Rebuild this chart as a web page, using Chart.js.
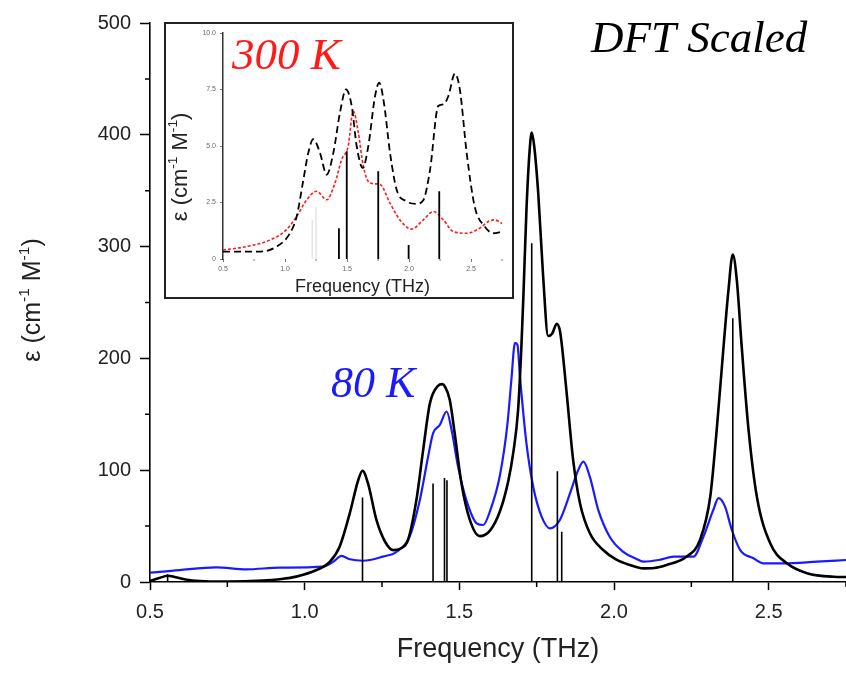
<!DOCTYPE html>
<html>
<head>
<meta charset="utf-8">
<script src="https://cdn.jsdelivr.net/npm/chart.js@4.4.0/dist/chart.umd.min.js"></script>
<style>
  html, body { margin: 0; padding: 0; background: #fff; }
  #wrap { position: relative; width: 846px; height: 673px; overflow: hidden; }
  #main { position: absolute; left: 0; top: 0; }
  #inset-box { position: absolute; left: 164px; top: 22px; width: 346px; height: 273px;
               border: 2px solid #222; background: #fff; }
  #inset { display: block; }
</style>
</head>
<body>
<div id="wrap">
  <canvas id="main" width="846" height="673"></canvas>
  <div id="inset-box"><canvas id="inset" width="346" height="273"></canvas></div>
</div>
<script>
// main panel - DFT scaled spectrum (black)
const dftFreq = [0.50, 0.53, 0.557, 0.58, 0.62, 0.68, 0.75, 0.864, 0.92, 0.973, 1.038, 1.081, 1.113, 1.146,
  1.173, 1.187, 1.205, 1.232, 1.26, 1.286, 1.31, 1.334, 1.361, 1.383, 1.405, 1.431, 1.445, 1.453, 1.469,
  1.485, 1.507, 1.534, 1.566, 1.599, 1.631, 1.658, 1.674, 1.69, 1.701, 1.707, 1.717, 1.727, 1.734, 1.742,
  1.755, 1.771, 1.787, 1.80, 1.815, 1.825, 1.831, 1.847, 1.868, 1.89, 1.922, 1.965, 2.009, 2.052, 2.095,
  2.13, 2.17, 2.235, 2.278, 2.311, 2.332, 2.354, 2.37, 2.384, 2.397, 2.413, 2.435, 2.462, 2.505, 2.559,
  2.624, 2.71, 2.75];
const dftEps = [1, 3.5, 5.6, 4.5, 2, 0.6, 0.3, 1.2, 2.5, 4.8, 10.7, 18, 31.6, 61.6,
  91, 99.5, 88, 55.5, 36, 28.5, 30, 37.6, 73, 118, 160, 175.5, 177, 175, 163,
  133, 88, 55.5, 41, 46, 63, 90, 115, 154, 213, 255, 333, 385, 402, 390,
  348, 273, 220, 222, 231, 225, 213, 169, 109, 70.5, 43.6, 28.6, 19.7, 15.2, 12.2,
  12.5, 15.2, 22.7, 37.6, 76, 136, 210, 261, 293, 270, 210, 136, 76, 34.6, 16.7,
  7.8, 4.7, 4.5];

// main panel - 80 K measurement (blue)
const k80Freq = [0.50, 0.595, 0.714, 0.811, 0.919, 1.059, 1.092, 1.119, 1.146, 1.189, 1.253, 1.297, 1.339,
  1.372, 1.399, 1.415, 1.437, 1.459, 1.475, 1.496, 1.523, 1.556, 1.577, 1.60, 1.631, 1.655, 1.668, 1.68,
  1.688, 1.696, 1.717, 1.739, 1.766, 1.793, 1.825, 1.858, 1.884, 1.901, 1.922, 1.949, 1.987, 2.03, 2.07,
  2.095, 2.15, 2.192, 2.257, 2.289, 2.321, 2.338, 2.359, 2.381, 2.408, 2.451, 2.483, 2.548, 2.656, 2.75];
const k80Eps = [8.3, 10.7, 13, 11.3, 12.8, 13.7, 18, 23.3, 20.3, 19, 22.7, 27, 40.5,
  73, 112, 133, 140.5, 152.5, 136, 103, 73, 52.5, 51, 64, 95, 140, 180, 214,
  212, 184, 124, 85, 58.5, 48, 55.5, 79.4, 100, 107.7, 94, 64.5, 40, 27, 21,
  18.2, 20, 22.7, 22.7, 40.5, 64.5, 75, 67.4, 46.5, 28.6, 21.2, 16.7, 16.7, 18.2, 19.7];

// main panel - calculated modes (sticks)
const modeFreq = [0.557, 1.187, 1.415, 1.452, 1.460, 1.734, 1.817, 1.831, 2.384];
const modeEps = [7, 75.5, 88, 93, 91, 303, 99, 45, 236];

// inset - 300 K
const insetCalcFreq = [0.5, 0.8, 0.933, 1.04, 1.094, 1.148, 1.188, 1.228, 1.282, 1.336, 1.39, 1.444, 1.492,
  1.538, 1.578, 1.627, 1.672, 1.726, 1.76, 1.798, 1.847, 1.9, 1.98, 2.06, 2.115, 2.17, 2.236, 2.277,
  2.317, 2.37, 2.41, 2.465, 2.53, 2.61, 2.68, 2.75];
const insetCalcEps = [0.33, 0.33, 0.55, 1.14, 1.88, 3.5, 4.7, 5.3, 4.7, 3.73, 4.7, 6.5, 7.5,
  6.77, 5.0, 4.03, 5.0, 7.2, 7.8, 6.9, 4.7, 3.07, 2.55, 2.44, 2.6, 3.95, 6.77, 6.84,
  7.2, 8.2, 7.5, 4.7, 2.32, 1.44, 1.14, 1.21];
const k300Freq = [0.5, 0.69, 0.88, 1.01, 1.094, 1.175, 1.256, 1.336, 1.403, 1.457, 1.51, 1.55, 1.591,
  1.632, 1.685, 1.766, 1.847, 1.927, 2.02, 2.115, 2.196, 2.277, 2.357, 2.465, 2.57, 2.64, 2.69, 2.75];
const k300Eps = [0.4, 0.55, 0.84, 1.29, 1.88, 2.62, 3.0, 2.62, 3.36, 4.4, 5.0, 6.55, 5.6,
  4.1, 3.36, 3.3, 2.47, 1.73, 1.32, 1.73, 2.1, 1.73, 1.21, 1.14, 1.36, 1.66, 1.73, 1.58];
const insetModeFreq = [1.435, 1.498, 1.752, 1.997, 2.244];
const insetModeEps = [1.36, 4.77, 3.88, 0.62, 3.0];
const insetFaintFreq = [1.22, 1.25];
const insetFaintEps = [1.73, 2.3];

// ticks
const xTicks = [0.5, 1.0, 1.5, 2.0, 2.5];
const xMinor = [0.75, 1.25, 1.75, 2.25, 2.75];
const yTicks = [0, 100, 200, 300, 400, 500];
const yMinor = [50, 150, 250, 350, 450];
const insetXTicks = [0.5, 1.0, 1.5, 2.0, 2.5];
const insetXMinor = [0.75, 1.25, 1.75, 2.25, 2.75];
const insetYTicks = [0, 2.5, 5, 7.5, 10];

// y axis label, with real superscripts
const epsLabel = [
  { text: "ε (cm" },
  { text: "-1", sup: true },
  { text: " M" },
  { text: "-1", sup: true },
  { text: ")" },
];

const toPoints = (xs, ys) => xs.map((x, i) => ({ x, y: ys[i] }));
const toSticks = (xs, ys) => xs.flatMap((x, i) => [{ x, y: 0 }, { x, y: ys[i] }, { x, y: null }]);

const sans = "'Liberation Sans', Arial, sans-serif";

// small outward ticks between the labelled ones
const minorTicks = {
  id: "minorTicks",
  afterDraw(chart, args, opts) {
    const { ctx, scales } = chart;
    ctx.save();
    ctx.strokeStyle = opts.color;
    ctx.lineWidth = opts.width;
    ctx.beginPath();
    opts.x.forEach((v) => {
      const px = scales.x.getPixelForValue(v);
      ctx.moveTo(px, scales.x.top);
      ctx.lineTo(px, scales.x.top + opts.len);
    });
    opts.y.forEach((v) => {
      const py = scales.y.getPixelForValue(v);
      ctx.moveTo(scales.y.right, py);
      ctx.lineTo(scales.y.right - opts.len, py);
    });
    ctx.stroke();
    ctx.restore();
  },
};

// draws text made of parts (some superscript), centred on x,y, optionally rotated
const drawRich = (ctx, parts, x, y, size, color, rotate) => {
  ctx.save();
  ctx.translate(x, y);
  if (rotate) ctx.rotate(rotate);
  ctx.fillStyle = color;
  ctx.textBaseline = "middle";
  const fontFor = (p) => `${p.sup ? size * 0.62 : size}px ${sans}`;
  let total = 0;
  parts.forEach((p) => { ctx.font = fontFor(p); total += ctx.measureText(p.text).width; });
  let cx = -total / 2;
  parts.forEach((p) => {
    ctx.font = fontFor(p);
    ctx.fillText(p.text, cx, p.sup ? -size * 0.33 : 0);
    cx += ctx.measureText(p.text).width;
  });
  ctx.restore();
};

// free text labels on the plot
const notes = {
  id: "notes",
  afterDraw(chart, args, opts) {
    const { ctx } = chart;
    opts.items.forEach((t) => {
      ctx.save();
      ctx.font = t.font;
      ctx.fillStyle = t.color;
      ctx.textBaseline = "alphabetic";
      ctx.fillText(t.text, t.x, t.y);
      ctx.restore();
    });
    if (opts.yTitle) {
      const yt = opts.yTitle;
      drawRich(ctx, epsLabel, yt.x, yt.y, yt.size, "#222", -Math.PI / 2);
    }
  },
};

new Chart(document.querySelector("#main"), {
  type: "line",
  data: {
    datasets: [
      {
        label: "modes",
        data: toSticks(modeFreq, modeEps),
        borderColor: "#000",
        borderWidth: 1.6,
        pointRadius: 0,
        spanGaps: false,
      },
      {
        label: "DFT Scaled",
        data: toPoints(dftFreq, dftEps),
        borderColor: "#000",
        borderWidth: 2.6,
        pointRadius: 0,
        cubicInterpolationMode: "monotone",
      },
      {
        label: "80 K",
        data: toPoints(k80Freq, k80Eps),
        borderColor: "#1a1aff",
        borderWidth: 2.2,
        pointRadius: 0,
        cubicInterpolationMode: "monotone",
      },
    ],
  },
  options: {
    responsive: false,
    animation: false,
    events: [],
    layout: { padding: { top: 23, right: 0, left: 0, bottom: 0 } },
    plugins: {
      legend: { display: false },
      tooltip: { enabled: false },
      minorTicks: { x: xMinor, y: yMinor, len: 5, color: "#000", width: 1.5 },
      notes: {
        items: [
          { text: "DFT Scaled", x: 591, y: 52, font: "italic 45px 'Liberation Serif', serif", color: "#000" },
          { text: "80 K", x: 331, y: 397, font: "italic 44px 'Liberation Serif', serif", color: "#1a1aff" },
        ],
        yTitle: { x: 33, y: 300, size: 25 },
      },
    },
    scales: {
      x: {
        type: "linear",
        min: 0.5,
        max: 2.75,
        afterBuildTicks: (s) => { s.ticks = xTicks.map((value) => ({ value })); },
        afterFit: (s) => { s.height = 91; },
        ticks: {
          callback: (v) => v.toFixed(1),
          font: { family: sans, size: 20 },
          color: "#222",
          padding: 10,
          maxRotation: 0,
        },
        grid: { drawOnChartArea: false, tickLength: 8, tickColor: "#000", tickWidth: 1.5 },
        border: { color: "#000", width: 1.6 },
        title: {
          display: true,
          text: "Frequency (THz)",
          font: { family: sans, size: 27, lineHeight: 1.2 },
          color: "#222",
          padding: { top: 0, bottom: 7 },
        },
      },
      y: {
        type: "linear",
        min: 0,
        max: 500,
        afterBuildTicks: (s) => { s.ticks = yTicks.map((value) => ({ value })); },
        afterFit: (s) => { s.width = 150; },
        ticks: {
          font: { family: sans, size: 20 },
          color: "#222",
          padding: 9,
        },
        grid: { drawOnChartArea: false, tickLength: 10, tickColor: "#000", tickWidth: 1.5 },
        border: { color: "#000", width: 1.6 },
        title: { display: false },
      },
    },
  },
  plugins: [minorTicks, notes],
});

new Chart(document.querySelector("#inset"), {
  type: "line",
  data: {
    datasets: [
      {
        label: "modes",
        data: toSticks(insetModeFreq, insetModeEps),
        borderColor: "#000",
        borderWidth: 1.8,
        pointRadius: 0,
        spanGaps: false,
      },
      {
        label: "weak modes",
        data: toSticks(insetFaintFreq, insetFaintEps),
        borderColor: "#e4e4e4",
        borderWidth: 1.5,
        pointRadius: 0,
        spanGaps: false,
      },
      {
        label: "calc",
        data: toPoints(insetCalcFreq, insetCalcEps),
        borderColor: "#000",
        borderWidth: 1.8,
        borderDash: [7, 4],
        pointRadius: 0,
        cubicInterpolationMode: "monotone",
      },
      {
        label: "300 K",
        data: toPoints(k300Freq, k300Eps),
        borderColor: "#ff1a1a",
        borderWidth: 1.6,
        borderDash: [3, 2],
        pointRadius: 0,
        cubicInterpolationMode: "monotone",
      },
    ],
  },
  options: {
    responsive: false,
    animation: false,
    events: [],
    layout: { padding: { top: 9, right: 10, left: 0, bottom: 0 } },
    plugins: {
      legend: { display: false },
      tooltip: { enabled: false },
      minorTicks: { x: insetXMinor, y: [], len: 2, color: "#777", width: 1 },
      notes: {
        items: [
          { text: "300 K", x: 66, y: 45, font: "italic 45px 'Liberation Serif', serif", color: "#ff1a1a" },
        ],
        yTitle: { x: 15, y: 143, size: 22 },
      },
    },
    scales: {
      x: {
        type: "linear",
        min: 0.5,
        max: 2.75,
        afterBuildTicks: (s) => { s.ticks = insetXTicks.map((value) => ({ value })); },
        afterFit: (s) => { s.height = 38; },
        ticks: {
          callback: (v) => v.toFixed(1),
          font: { family: sans, size: 7 },
          color: "#666",
          padding: 3,
          maxRotation: 0,
        },
        grid: { drawOnChartArea: false, tickLength: 3, tickColor: "#777", tickWidth: 1 },
        border: { display: false },
        title: {
          display: true,
          text: "Frequency (THz)",
          font: { family: sans, size: 18, lineHeight: 1 },
          color: "#222",
          padding: { top: 0, bottom: 1 },
        },
      },
      y: {
        type: "linear",
        min: 0,
        max: 10,
        afterBuildTicks: (s) => { s.ticks = insetYTicks.map((value) => ({ value })); },
        afterFit: (s) => { s.width = 57; },
        ticks: {
          callback: (v) => (v === 0 ? "0" : v.toFixed(1)),
          font: { family: sans, size: 7 },
          color: "#666",
          padding: 4,
        },
        grid: { drawOnChartArea: false, tickLength: 3, tickColor: "#777", tickWidth: 1 },
        border: { color: "#333", width: 1.5 },
        title: { display: false },
      },
    },
  },
  plugins: [minorTicks, notes],
});
</script>
</body>
</html>
